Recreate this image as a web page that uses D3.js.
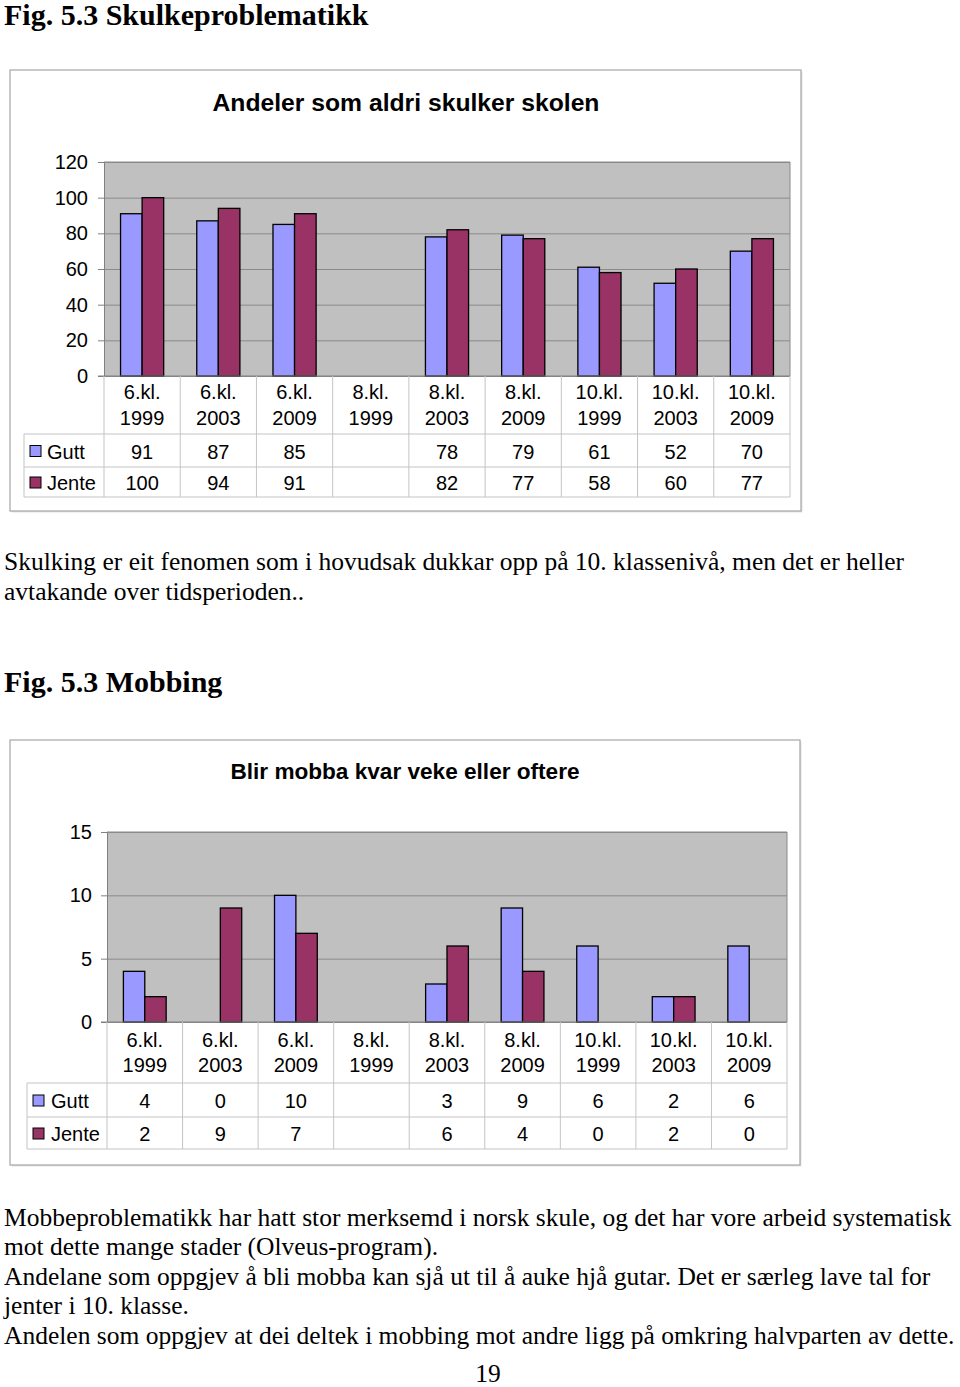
<!DOCTYPE html>
<html>
<head>
<meta charset="utf-8">
<script src="https://cdn.jsdelivr.net/npm/d3@7"></script>
<style>
  body { margin: 0; background: #fff; }
  svg text { fill: #000; }
</style>
</head>
<body>
<div id="page"></div>
<script>
// category labels (two lines each)
const classLabels = ["6.kl.", "6.kl.", "6.kl.", "8.kl.", "8.kl.", "8.kl.", "10.kl.", "10.kl.", "10.kl."];
const yearLabels = ["1999", "2003", "2009", "1999", "2003", "2009", "1999", "2003", "2009"];
const seriesNames = ["Gutt", "Jente"];

// Andeler som aldri skulker skolen
const skulkGutt = [91, 87, 85, null, 78, 79, 61, 52, 70];
const skulkJente = [100, 94, 91, null, 82, 77, 58, 60, 77];
const skulkTicks = [0, 20, 40, 60, 80, 100, 120];

// Blir mobba kvar veke eller oftere
const mobbGutt = [4, 0, 10, null, 3, 9, 6, 2, 6];
const mobbJente = [2, 9, 7, null, 6, 4, 0, 2, 0];
const mobbTicks = [0, 5, 10, 15];

const colors = ["#9999ff", "#993366"];
const W = 960, H = 1387;

const svg = d3.select("#page").append("svg")
  .attr("width", W)
  .attr("height", H);

const serif = "'Liberation Serif', 'Times New Roman', serif";
const sans = "'Liberation Sans', Arial, sans-serif";

function para(lines, x, y0, dy, size, weight) {
  lines.forEach((t, i) => {
    svg.append("text")
      .attr("x", x).attr("y", y0 + i * dy)
      .style("font-family", serif)
      .style("font-size", size + "px")
      .style("font-weight", weight || "normal")
      .text(t);
  });
}

function drawChart(opt) {
  const g = svg.append("g");
  const { box, plot, rows, left } = opt;

  // chart frame
  g.append("rect")
    .attr("x", box.x + 1.5).attr("y", box.y + 1.5)
    .attr("width", box.w).attr("height", box.h)
    .attr("fill", "#e4e4e4");
  g.append("rect")
    .attr("x", box.x).attr("y", box.y)
    .attr("width", box.w).attr("height", box.h)
    .attr("fill", "#fff").attr("stroke", "#a6a6a6").attr("stroke-width", 1.2);

  g.append("text")
    .attr("x", opt.titleX).attr("y", opt.titleY)
    .attr("text-anchor", "middle").attr("dominant-baseline", "central")
    .style("font-family", sans).style("font-weight", "bold")
    .style("font-size", opt.titleSize + "px")
    .text(opt.title);

  const x = d3.scaleBand()
    .domain(d3.range(classLabels.length))
    .range([plot.x0, plot.x1]);
  const half = x.bandwidth() * 0.283;
  const xs = d3.scaleBand()
    .domain(seriesNames)
    .range([x.bandwidth() / 2 - half, x.bandwidth() / 2 + half]);
  const y = d3.scaleLinear()
    .domain([0, opt.ticks[opt.ticks.length - 1]])
    .range([plot.y1, plot.y0]);

  // plot area
  g.append("rect")
    .attr("x", plot.x0).attr("y", plot.y0)
    .attr("width", plot.x1 - plot.x0).attr("height", plot.y1 - plot.y0)
    .attr("fill", "#c0c0c0");

  // gridlines
  g.append("g")
    .attr("transform", `translate(${plot.x0},0)`)
    .call(d3.axisLeft(y).tickValues(opt.ticks).tickSize(-(plot.x1 - plot.x0)).tickFormat(""))
    .call(a => a.select(".domain").remove())
    .call(a => a.selectAll("line").attr("stroke", "#8a8a8a"));

  // y axis
  g.append("g")
    .attr("transform", `translate(${plot.x0},0)`)
    .call(d3.axisLeft(y).tickValues(opt.ticks).tickSize(6).tickPadding(opt.tickPad))
    .call(a => a.select(".domain").attr("stroke", "#808080"))
    .call(a => a.selectAll("line").attr("stroke", "#808080"))
    .call(a => a.selectAll("text")
      .style("font-family", sans).style("font-size", "20px").attr("fill", "#000"));

  g.append("line")
    .attr("x1", plot.x0).attr("x2", plot.x1)
    .attr("y1", plot.y0).attr("y2", plot.y0)
    .attr("stroke", "#8a8a8a");
  g.append("line")
    .attr("x1", plot.x1).attr("x2", plot.x1)
    .attr("y1", plot.y0).attr("y2", plot.y1)
    .attr("stroke", "#8a8a8a");

  // bars
  const series = [opt.gutt, opt.jente];
  series.forEach((vals, si) => {
    g.append("g").selectAll("rect")
      .data(vals.map((v, i) => ({ v, i })).filter(d => d.v !== null && d.v > 0))
      .join("rect")
      .attr("x", d => x(d.i) + xs(seriesNames[si]))
      .attr("y", d => y(d.v))
      .attr("width", xs.bandwidth())
      .attr("height", d => y(0) - y(d.v))
      .attr("fill", colors[si])
      .attr("stroke", "#000")
      .attr("stroke-width", 1.3);
  });

  // x baseline
  g.append("line")
    .attr("x1", plot.x0 - 6).attr("x2", plot.x1)
    .attr("y1", plot.y1).attr("y2", plot.y1)
    .attr("stroke", "#808080");

  // data table grid
  const tg = g.append("g").attr("stroke", "#c4c4c4").attr("stroke-width", 1);
  rows.forEach(ry => {
    tg.append("line").attr("x1", left).attr("x2", plot.x1).attr("y1", ry).attr("y2", ry);
  });
  tg.append("line").attr("x1", left).attr("x2", left).attr("y1", rows[0]).attr("y2", rows[2]);
  d3.range(classLabels.length + 1).forEach(i => {
    const xx = i < classLabels.length ? x(i) : plot.x1;
    tg.append("line").attr("x1", xx).attr("x2", xx).attr("y1", plot.y1).attr("y2", rows[2]);
  });

  // category labels
  const cx = i => x(i) + x.bandwidth() / 2;
  const txt = (sel, xx, yy, t, anchor) => sel.append("text")
    .attr("x", xx).attr("y", yy)
    .attr("text-anchor", anchor || "middle").attr("dominant-baseline", "central")
    .style("font-family", sans).style("font-size", "20px")
    .text(t);
  classLabels.forEach((c, i) => {
    txt(g, cx(i), plot.y1 + opt.cat1, c);
    txt(g, cx(i), plot.y1 + opt.cat2, yearLabels[i]);
  });

  // value rows + legend keys
  series.forEach((vals, si) => {
    const ry = (rows[si] + rows[si + 1]) / 2 + 1;
    vals.forEach((v, i) => {
      if (v !== null) txt(g, cx(i), ry, v);
    });
    g.append("rect")
      .attr("x", left + 6).attr("y", ry - 6)
      .attr("width", 11).attr("height", 11)
      .attr("fill", colors[si]).attr("stroke", "#000").attr("stroke-width", 1);
    txt(g, left + opt.legendPad, ry, seriesNames[si], "start");
  });
}

// page text
para(["Fig. 5.3 Skulkeproblematikk"], 4, 25, 0, 30, "bold");

drawChart({
  title: "Andeler som aldri skulker skolen",
  titleX: 406, titleY: 102, titleSize: 24.7,
  box: { x: 10, y: 70, w: 791, h: 441 },
  plot: { x0: 104, x1: 790, y0: 162, y1: 376 },
  rows: [434, 467, 497],
  left: 24, legendPad: 23, tickPad: 10,
  cat1: 16, cat2: 42,
  ticks: skulkTicks, gutt: skulkGutt, jente: skulkJente
});

para([
  "Skulking er eit fenomen som i hovudsak dukkar opp på 10. klassenivå, men det er heller",
  "avtakande over tidsperioden.."
], 4, 570, 29.5, 25.5);

para(["Fig. 5.3 Mobbing"], 4, 692, 0, 30, "bold");

drawChart({
  title: "Blir mobba kvar veke eller oftere",
  titleX: 405, titleY: 771, titleSize: 22.6,
  box: { x: 10, y: 740, w: 790, h: 425 },
  plot: { x0: 107, x1: 787, y0: 832, y1: 1022 },
  rows: [1083, 1117, 1149],
  left: 27, legendPad: 24, tickPad: 9,
  cat1: 18, cat2: 43,
  ticks: mobbTicks, gutt: mobbGutt, jente: mobbJente
});

para([
  "Mobbeproblematikk har hatt stor merksemd i norsk skule, og det har vore arbeid systematisk",
  "mot dette mange stader (Olveus-program).",
  "Andelane som oppgjev å bli mobba kan sjå ut til å auke hjå gutar. Det er særleg lave tal for",
  "jenter i 10. klasse.",
  "Andelen som oppgjev at dei deltek i mobbing mot andre ligg på omkring halvparten av dette."
], 4, 1225.5, 29.5, 25.5);

svg.append("text")
  .attr("x", 488).attr("y", 1382)
  .attr("text-anchor", "middle")
  .style("font-family", serif).style("font-size", "25.5px")
  .text("19");
</script>
</body>
</html>
